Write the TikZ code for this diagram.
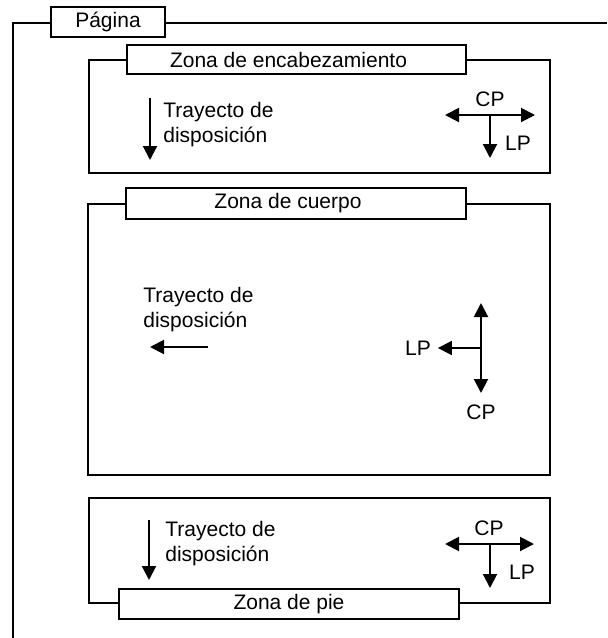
\documentclass[tikz,border=0pt]{standalone}
\usepackage{fontspec}
\setmainfont{Liberation Sans}
\usetikzlibrary{arrows.meta}
\tikzset{
  zonelabel/.style={draw, fill=white, line width=0.6pt, inner sep=0pt},
  frameline/.style={line width=0.6pt},
  dirarrow/.style={line width=1pt, -{Triangle[length=7pt,width=7pt]}},
  dirboth/.style={line width=1pt, {Triangle[length=7pt,width=7pt]}-{Triangle[length=7pt,width=7pt]}},
  pathtext/.style={inner sep=0pt, align=left, anchor=west}
}

\begin{document}
\begin{tikzpicture}[x=0.5pt, y=-0.5pt, font=\fontsize{10.5}{12.5}\selectfont]
\useasboundingbox (0,0) rectangle (607,638);

\draw[frameline] (13,638) -- (13,23) -- (607,23);
\node[zonelabel, minimum width=57pt, minimum height=15pt] (pag) at (108,22) {Página};

\draw[frameline] (89,60) rectangle (550,173);
\node[zonelabel, minimum width=169.5pt, minimum height=14.5pt] (enc) at (296.5,59.5) {Zona de encabezamiento\hspace*{8pt}};
\node[pathtext] (trH) at (163,124.5) {Trayecto de\\disposición};
\coordinate (tsH) at (150,98);
\coordinate (teH) at (150,160);
\draw[dirarrow] (tsH) -- (teH);
\coordinate (hl) at (445,115);
\coordinate (hr) at (535,115);
\coordinate (hc) at (490,115);
\coordinate (hd) at (490,158);
\draw[dirboth] (hl) -- (hr);
\draw[dirarrow] (hc) -- (hd);
\node (cpH) at (490,99) {CP};
\node (lpH) at (518,143) {LP};

\draw[frameline] (88,204) rectangle (550,475);
\node[zonelabel, minimum width=170pt, minimum height=15.5pt] (cue) at (296,203.5) {Zona de cuerpo\hspace*{8pt}};
\node[pathtext] (trB) at (143,309.5) {Trayecto de\\disposición};
\coordinate (tsB) at (208,347);
\coordinate (teB) at (150,347);
\draw[dirarrow] (tsB) -- (teB);
\coordinate (bt) at (481,303);
\coordinate (bb) at (481,393);
\coordinate (bc) at (481,348);
\node (lpB) at (418,348) {LP};
\node (cpB) at (481,412) {CP};
\draw[dirboth] (bt) -- (bb);
\draw[dirarrow] (bc) -- (lpB);

\draw[frameline] (89,498) rectangle (550,603);
\node[zonelabel, minimum width=170pt, minimum height=15pt] (pie) at (289,604) {Zona de pie};
\node[pathtext] (trF) at (165,543.5) {Trayecto de\\disposición};
\coordinate (tsF) at (149,520);
\coordinate (teF) at (149,580);
\draw[dirarrow] (tsF) -- (teF);
\coordinate (fl) at (445,544);
\coordinate (fr) at (534,544);
\coordinate (fc) at (490,544);
\coordinate (fd) at (490,588);
\draw[dirboth] (fl) -- (fr);
\draw[dirarrow] (fc) -- (fd);
\node (cpF) at (489,528) {CP};
\node (lpF) at (522,572) {LP};
\end{tikzpicture}
\end{document}
